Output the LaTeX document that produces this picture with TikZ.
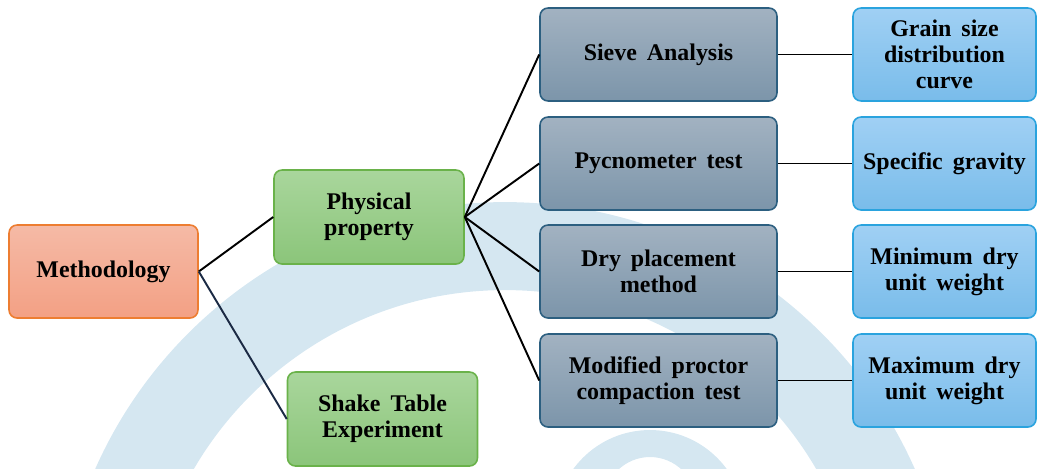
\documentclass[tikz,border=0pt]{standalone}
\usepackage{fontspec}
\setmainfont{Liberation Serif}
\definecolor{ringblue}{HTML}{D5E7F1}
\definecolor{orBorder}{HTML}{ED7D31}
\definecolor{orTop}{HTML}{F5BAA6}
\definecolor{orBot}{HTML}{F3A084}
\definecolor{grBorder}{HTML}{6AB24A}
\definecolor{grTop}{HTML}{A9D69C}
\definecolor{grBot}{HTML}{8BC57A}
\definecolor{gyBorder}{HTML}{2C5F80}
\definecolor{gyTop}{HTML}{A2B2C1}
\definecolor{gyBot}{HTML}{7C95AA}
\definecolor{blBorder}{HTML}{2AA3DE}
\definecolor{blTop}{HTML}{A0D0F4}
\definecolor{blBot}{HTML}{79BCEA}
\definecolor{navy}{HTML}{1B2A44}
\newcommand{\boxfont}{\fontsize{13.6}{14.8}\selectfont\bfseries\spaceskip=0.42em plus 0.1em\relax}
\tikzset{
  box/.style={rounded corners=0.16cm, line width=0.9pt, align=center, inner sep=0pt,
    font=\boxfont, text=black},
  orbox/.style={box, draw=orBorder, top color=orTop, bottom color=orBot,
    minimum width=3.78cm, minimum height=1.86cm},
  grbox/.style={box, draw=grBorder, top color=grTop, bottom color=grBot,
    minimum width=3.8cm, minimum height=1.88cm},
  gybox/.style={box, draw=gyBorder, top color=gyTop, bottom color=gyBot,
    minimum width=4.74cm, minimum height=1.86cm},
  blbox/.style={box, draw=blBorder, top color=blTop, bottom color=blBot,
    minimum width=3.66cm, minimum height=1.86cm},
  link/.style={line width=1.1pt, draw=black},
}
\begin{document}
\begin{tikzpicture}[x=0.02cm,y=-0.02cm]
\useasboundingbox (0,0) rectangle (1037,468);
\begin{scope}
  \clip (0,0) rectangle (1037,468);
  \fill[ringblue, even odd rule] (505,650) circle (8.96cm) (505,650) circle (7.2cm);
  \fill[ringblue, even odd rule] (650,525) circle (1.9cm) (650,503) circle (0.92cm);
\end{scope}

\node[orbox] (meth) at (103.5,271.5) {Methodology};
\node[grbox] (phys) at (369,217) {Physical\\property};
\node[grbox] (shake) at (382.5,419) {Shake Table\\Experiment};

\node[gybox] (sieve) at (658.5,54.5) {Sieve Analysis};
\node[gybox] (pyc) at (658.5,163.5) {Pycnometer test};
\node[gybox] (dry) at (658.5,271.5) {Dry placement\\method};
\node[gybox] (mod) at (658.5,380.5) {Modified proctor\\compaction test};

\node[blbox] (grain) at (944.5,54.5) {Grain size\\distribution\\curve};
\node[blbox] (sg) at (944.5,163.5) {Specific gravity};
\node[blbox] (minw) at (944.5,271.5) {Minimum dry\\unit weight};
\node[blbox] (maxw) at (944.5,380.5) {Maximum dry\\unit weight};

\draw[link] (meth.east) -- (phys.west);
\draw[link, draw=navy] (meth.east) -- (shake.west);
\foreach \t in {sieve,pyc,dry,mod} {
  \draw[link] (phys.east) -- (\t.west);
}
\draw[link] (sieve.east) -- (grain.west);
\draw[link] (pyc.east) -- (sg.west);
\draw[link] (dry.east) -- (minw.west);
\draw[link] (mod.east) -- (maxw.west);
\end{tikzpicture}
\end{document}
